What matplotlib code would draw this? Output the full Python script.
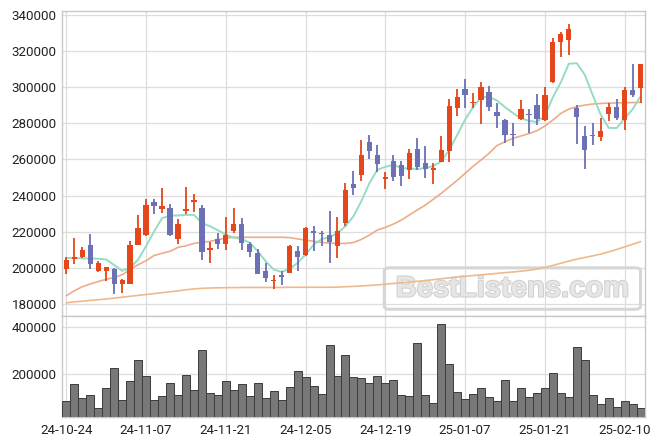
import numpy as np
import pandas as pd
import matplotlib
matplotlib.use('Agg')
import matplotlib.pyplot as plt
from matplotlib.patches import FancyBboxPatch
import matplotlib.patheffects as pe

plt.rcParams['font.family'] = ['Roboto', 'DejaVu Sans']

# trading days shown (KRX, 2024-10-24 .. 2025-02-12)
holidays = ['2024-12-25', '2024-12-31', '2025-01-01', '2025-01-27', '2025-01-28',
            '2025-01-29', '2025-01-30']
dates = pd.bdate_range('2024-10-24', '2025-02-12')
dates = dates[~dates.isin(pd.to_datetime(holidays))]

opens = [199100, 204600, 205700, 212400, 198000, 198400, 199600, 191200, 191000, 212800,
         218300, 236200, 232700, 232900, 216100, 231400, 236400, 233100, 209600, 216200,
         213000, 220200, 224300, 213200, 208200, 198400, 192500, 196200, 197000, 209500,
         206900, 220200, 219500, 218200, 211900, 224700, 246400, 251600, 269900, 262300,
         249000, 259200, 256800, 254200, 265800, 258100, 254000, 258800, 264900, 288700,
         299100, 291000, 292800, 297200, 286000, 281600, 274100, 282600, 285100, 290100,
         281800, 302900, 324900, 326000, 288300, 273000, 273500, 272200, 285300, 288800,
         282000, 298300, 299700]
highs = [205700, 216300, 211700, 218500, 203900, 200600, 199900, 193900, 214800, 229000,
         237900, 238100, 244000, 235100, 226800, 244500, 240800, 234700, 214500, 219300,
         228000, 233200, 227600, 214500, 210600, 202700, 195900, 198100, 212700, 211900,
         222600, 223000, 220600, 231700, 228200, 246700, 253600, 270800, 273600, 267900,
         253300, 262300, 259200, 266000, 271700, 267300, 257900, 272900, 293400, 299100,
         304400, 296700, 302800, 300400, 291100, 282600, 280000, 292900, 288100, 296000,
         300300, 327400, 330600, 335000, 290100, 278500, 280300, 283100, 291100, 293600,
         299900, 312900, 312900]
lows = [196500, 202000, 205400, 199600, 197600, 192800, 185400, 185800, 190800, 212400,
        217600, 229800, 230100, 217600, 213100, 229800, 230900, 204300, 202700, 210500,
        210100, 219000, 210100, 206000, 196600, 192000, 188300, 190700, 197000, 198300,
        206400, 209300, 211900, 202700, 205500, 223000, 240200, 247900, 260500, 253300,
        243700, 247900, 245300, 249200, 254200, 249600, 246400, 258600, 258800, 284100,
        288400, 288400, 279500, 287100, 277300, 268900, 267400, 281800, 274800, 278900,
        281300, 302100, 316700, 317800, 268500, 254500, 267800, 270200, 281100, 281600,
        276300, 294800, 291100]
closes = [204300, 206100, 209800, 201900, 202400, 200200, 191200, 193200, 212400, 222000,
          234600, 234400, 234200, 218300, 224200, 232500, 237500, 208900, 211000, 213000,
          218200, 224500, 213600, 208600, 196600, 194400, 193300, 194800, 212300, 205800,
          222100, 219500, 218600, 214100, 220100, 243300, 244400, 262300, 264900, 257200,
          250300, 250500, 251100, 263600, 256000, 254900, 255500, 265300, 289700, 294600,
          295900, 291900, 300000, 289300, 283900, 273700, 273500, 287900, 284600, 282600,
          295500, 324900, 329300, 332100, 283700, 265000, 273000, 275500, 288800, 283100,
          298300, 295700, 312900]
volume = [86500, 158900, 99300, 112000, 56700, 141800, 227000, 90800, 171600, 261000,
          192900, 90800, 107800, 163100, 112000, 197200, 133300, 299300, 120600, 112000,
          171600, 133300, 158900, 107800, 163100, 99300, 129100, 90800, 146100, 214200,
          188700, 150400, 116300, 320600, 192900, 282300, 188700, 184400, 163100, 192900,
          163100, 175900, 112000, 107800, 329100, 112000, 78000, 409900, 244000, 124800,
          95000, 116300, 141800, 103500, 86500, 175900, 86500, 141800, 103500, 120600,
          141800, 205700, 120600, 103500, 312000, 261000, 112000, 73800, 99300, 61000,
          86500, 73800, 56700]
ma5 = [205400, 205400, 205200, 205200, 205000, 204600, 201500, 198300, 200000, 204500,
       212000, 220000, 227500, 228800, 229000, 229300, 229300, 224800, 223000, 220800,
       218400, 216600, 216000, 213800, 209200, 203600, 199000, 197700, 199400, 202700,
       207300, 212800, 215900, 216900, 219300, 223000, 228500, 237000, 246900, 254300,
       255900, 257000, 255300, 254900, 254700, 255200, 256300, 258900, 265200, 273500,
       282000, 289000, 294400, 294600, 292600, 289000, 285700, 282800, 281400, 280700,
       284200, 294400, 302700, 313000, 313300, 306900, 295600, 284800, 277500, 277400,
       282700, 287800, 295000]
ma20 = [184500, 187300, 189500, 191000, 192400, 193600, 194700, 196100, 199100, 201700,
        203900, 206800, 208000, 209100, 211300, 212200, 213500, 214200, 214600, 215600,
        216400, 216900, 216900, 216900, 216900, 216900, 216900, 216900, 216700, 216000,
        215300, 214700, 214100, 213600, 213500, 213500, 214000, 215700, 218100, 220900,
        222400, 224200, 226400, 229200, 232000, 234700, 237900, 241200, 244800, 248400,
        252300, 256200, 259700, 263400, 267700, 269800, 271700, 273000, 274300, 275900,
        278500, 281800, 285500, 287900, 289200, 290100, 290700, 291000, 291200, 291300,
        291400, 291500, 291600]
ma60 = [180600, 181100, 181500, 181900, 182300, 182700, 183200, 183700, 184200, 184700,
        185200, 185700, 186200, 186700, 187200, 187800, 188300, 188600, 188800, 188900,
        189000, 189000, 189100, 189100, 189100, 189100, 189100, 189100, 189200, 189200,
        189200, 189200, 189200, 189200, 189300, 189500, 189700, 189900, 190200, 190500,
        190900, 191300, 191700, 192100, 192500, 192900, 193400, 193900, 194400, 194900,
        195300, 195700, 196100, 196500, 196900, 197300, 197700, 198100, 198600, 199300,
        200200, 201300, 202500, 203700, 204800, 205700, 206600, 207600, 208800, 210100,
        211600, 213000, 214500]

up_color = '#e5461a'
down_color = '#6c70b4'
grid_color = '#dddddd'
spine_color = '#c8c8c8'

x = np.arange(len(closes))
o = np.array(opens)
c = np.array(closes)
colors = [up_color if cc >= oo else down_color for oo, cc in zip(o, c)]

fig = plt.figure(figsize=(6.63, 4.46), dpi=100)
ax = fig.add_axes([0.094, 0.2915, 0.8782, 0.6838])
axv = fig.add_axes([0.094, 0.0657, 0.8782, 0.2258], sharex=ax)

tick_pos = list(range(0, len(x), 10))
tick_lab = [dates[i].strftime('%y-%m-%d') for i in tick_pos]

# watermark
box = FancyBboxPatch((0.553, 0.022), 0.44, 0.136, boxstyle='round,pad=0,rounding_size=0.01',
                     transform=ax.transAxes, facecolor='none', edgecolor='#d6d6d6',
                     linewidth=2.2, zorder=1)
ax.add_patch(box)
ax.text(0.773, 0.09, 'BestListens.com', transform=ax.transAxes, ha='center', va='center',
        fontsize=21, fontweight='bold', family='Liberation Sans', color='#e6e6e6', zorder=1,
        path_effects=[pe.withStroke(linewidth=1.5, foreground='#d0d0d0')])

# moving averages
ax.plot(x, ma60, color='#f0b98c', lw=1.2, zorder=2)
ax.plot(x, ma20, color='#eeab88', lw=1.2, zorder=2)
ax.plot(x, ma5, color='#96dcc2', lw=1.4, zorder=2)

# candles
ax.vlines(x, lows, highs, colors=colors, lw=1.3, zorder=3)
body = np.abs(c - o)
body = np.maximum(body, 600)
ax.bar(x, body, bottom=np.minimum(o, c), width=0.66, color=colors, zorder=4)

ax.set_xlim(-0.5, len(x) - 0.5)
ax.set_ylim(173300, 342200)
ax.set_yticks(range(180000, 340001, 20000))
ax.set_xticks(tick_pos)
ax.tick_params(axis='x', labelbottom=False, length=0)
ax.tick_params(axis='y', length=0, pad=4, labelsize=9.6, labelcolor='#222222')
ax.grid(True, color=grid_color, lw=0.9)
ax.set_axisbelow(True)

# volume
axv.bar(x, volume, width=1.0, color='#787878', edgecolor='#3c3c3c', linewidth=0.7, zorder=3)
axv.set_ylim(19600, 445000)
axv.set_yticks([200000, 400000])
axv.set_xticks(tick_pos)
axv.set_xticklabels(tick_lab)
axv.tick_params(axis='both', length=0, labelsize=9.6, labelcolor='#222222')
axv.tick_params(axis='y', pad=4)
axv.tick_params(axis='x', pad=5)
axv.grid(True, color=grid_color, lw=0.9)
axv.set_axisbelow(True)

for a in (ax, axv):
    for s in a.spines.values():
        s.set_color(spine_color)
        s.set_linewidth(1.0)

fig.savefig('out.png', dpi=100)
